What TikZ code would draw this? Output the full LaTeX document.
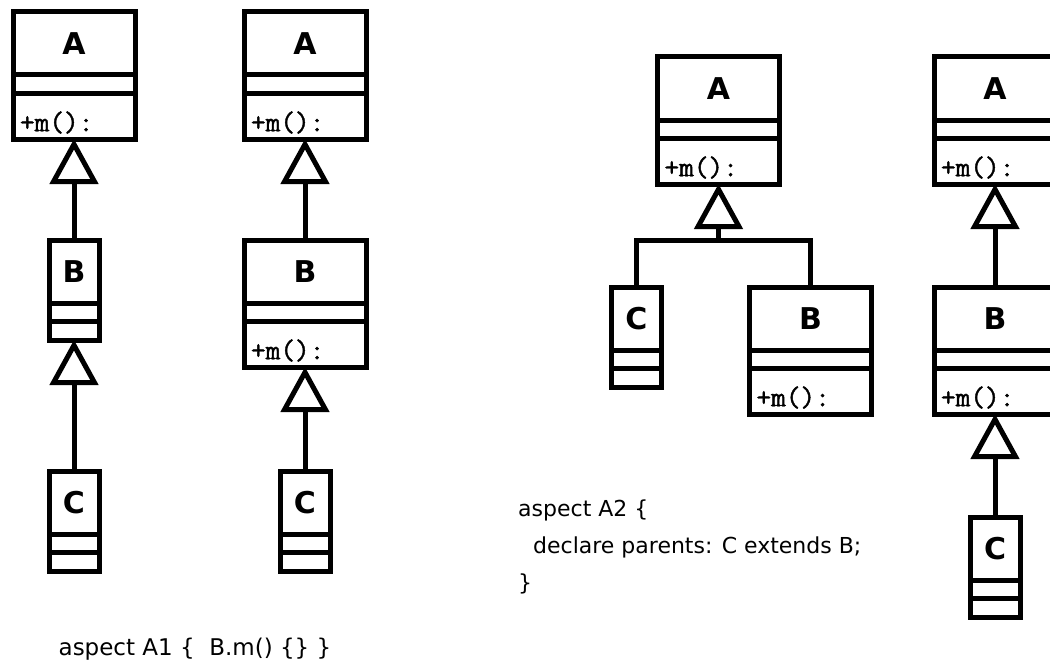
\documentclass[tikz,border=0pt]{standalone}
\usepackage{fontspec}
\setmainfont{DejaVu Sans}
\newfontfamily\opsfont{Latin Modern Mono}[FakeBold=1.5]
\usetikzlibrary{arrows.meta}

\tikzset{
    classbox/.style={draw, line width=5pt, inner sep=0pt, outer sep=0pt,
        anchor=north},
    classname/.style={classbox, minimum width=#1, minimum height=63pt,
        font=\bfseries\fontsize{30}{36}\selectfont},
    classattr/.style={classbox, minimum width=#1, minimum height=18.5pt},
    classops/.style={classbox, minimum height=45.5pt, inner xsep=7pt,
        text width=108pt, text height=30pt, text depth=0pt, align=left,
        font=\opsfont\fontsize{28.5}{30}\selectfont},
    extends/.style={line width=5pt,
        -{Triangle[open, length=45pt, width=48pt]}},
    aspecttext/.style={font=\fontsize{22}{37}\selectfont, inner sep=0pt},
}

\begin{document}
\begin{tikzpicture}[x=1pt, y=-1pt]
    \useasboundingbox (0,0) rectangle (1050,661);
    \clip (0,0) rectangle (1050,661);

    % A1: B.m() added by the aspect
    \node[classname=122pt] (A1n) at (74,12) {A};
    \node[classattr=122pt] (A1a) at (A1n.south) {};
    \node[classops] (A1o) at (A1a.south) {+m():};
    \node[classname=50pt] (B1n) at (74,240) {B};
    \node[classattr=50pt] (B1a) at (B1n.south) {};
    \node[classattr=50pt] (B1o) at (B1a.south) {};
    \node[classname=50pt] (C1n) at (74,471) {C};
    \node[classattr=50pt] (C1a) at (C1n.south) {};
    \node[classattr=50pt] (C1o) at (C1a.south) {};
    \draw[extends] (B1n.north) -- (A1o.south);
    \draw[extends] (C1n.north) -- (B1o.south);

    \node[classname=122pt] (A2n) at (305,12) {A};
    \node[classattr=122pt] (A2a) at (A2n.south) {};
    \node[classops] (A2o) at (A2a.south) {+m():};
    \node[classname=122pt] (B2n) at (305,240) {B};
    \node[classattr=122pt] (B2a) at (B2n.south) {};
    \node[classops] (B2o) at (B2a.south) {+m():};
    \node[classname=50pt] (C2n) at (305,471) {C};
    \node[classattr=50pt] (C2a) at (C2n.south) {};
    \node[classattr=50pt] (C2o) at (C2a.south) {};
    \draw[extends] (B2n.north) -- (A2o.south);
    \draw[extends] (C2n.north) -- (B2o.south);

    \node[aspecttext, font=\fontsize{23}{28}\selectfont, anchor=base]
        (aspA1) at (195,655) {aspect A1 \{~ B.m() \{\} \}};

    % A2: declare parents moves C under B
    \node[classname=122pt] (A3n) at (718.5,57) {A};
    \node[classattr=122pt] (A3a) at (A3n.south) {};
    \node[classops] (A3o) at (A3a.south) {+m():};
    \node[classname=50pt] (C3n) at (636.5,287) {C};
    \node[classattr=50pt] (C3a) at (C3n.south) {};
    \node[classattr=50pt] (C3o) at (C3a.south) {};
    \node[classname=122pt] (B3n) at (810.5,287) {B};
    \node[classattr=122pt] (B3a) at (B3n.south) {};
    \node[classops] (B3o) at (B3a.south) {+m():};
    \coordinate (J3) at (718.5,240);
    \draw[line width=5pt, line join=miter] (C3n.north) |- (J3) -| (B3n.north);
    \draw[extends] (J3) -- (A3o.south);

    \node[classname=122pt] (A4n) at (995,57) {A};
    \node[classattr=122pt] (A4a) at (A4n.south) {};
    \node[classops] (A4o) at (A4a.south) {+m():};
    \node[classname=122pt] (B4n) at (995,287) {B};
    \node[classattr=122pt] (B4a) at (B4n.south) {};
    \node[classops] (B4o) at (B4a.south) {+m():};
    \node[classname=50pt] (C4n) at (995,517) {C};
    \node[classattr=50pt] (C4a) at (C4n.south) {};
    \node[classattr=50pt] (C4o) at (C4a.south) {};
    \draw[extends] (B4n.north) -- (A4o.south);
    \draw[extends] (C4n.north) -- (B4o.south);

    \node[aspecttext, anchor=north west, align=left] (aspA2) at (518,500)
        {aspect A2 \{\\\hspace*{15pt}declare parents: C extends B;\\\}};
\end{tikzpicture}
\end{document}
